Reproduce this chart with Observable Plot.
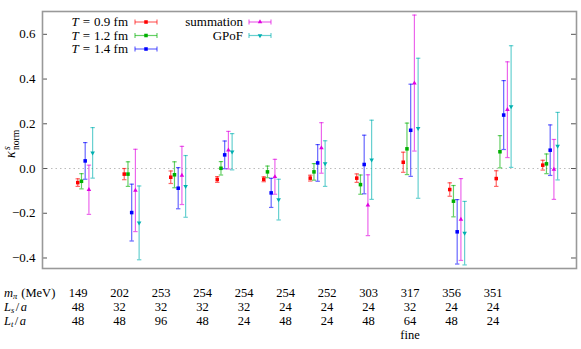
<!DOCTYPE html>
<html><head><meta charset="utf-8">
<script src="https://cdn.jsdelivr.net/npm/d3@7"></script>
<script src="https://cdn.jsdelivr.net/npm/@observablehq/plot@0.6"></script>
<style>
body{margin:0;background:#fff;}
#wrap{position:relative;width:581px;height:349px;font-family:'Liberation Serif',serif;}
#wrap svg, #wrap svg text{font-family:'Liberation Serif',serif !important;}
#over{position:absolute;left:0;top:0;pointer-events:none;}
</style></head>
<body><div id="wrap"></div>
<script>
// ensemble table
const ensembles = [1,2,3,4,5,6,7,8,9,10,11];
const mpi = ["149","202","253","254","254","254","252","303","317","356","351"];
const Ls  = ["48","32","32","32","32","24","24","24","32","24","24"];
const Lt  = ["48","48","96","48","24","48","24","48","64","48","24"];
const note = ["","","","","","","","","fine","",""];
// kappa values and errors
const T09  = [-0.063,-0.025,-0.039,-0.049,-0.048,-0.043,-0.043, 0.028,-0.094,-0.045, 0.015];
const T09e = [ 0.017, 0.025, 0.028, 0.013, 0.011, 0.013, 0.019, 0.045, 0.030, 0.035, 0.022];
const T12  = [-0.057,-0.025,-0.028, 0.001,-0.015,-0.015,-0.072, 0.088,-0.146, 0.075, 0.021];
const T12e = [ 0.034, 0.055, 0.058, 0.030, 0.026, 0.037, 0.043, 0.115, 0.070, 0.072, 0.044];
const T14  = [ 0.034,-0.197,-0.088, 0.061,-0.109, 0.025, 0.018, 0.171,-0.283, 0.239, 0.082];
const T14e = [ 0.082, 0.127, 0.092, 0.062, 0.065, 0.082, 0.131, 0.206, 0.144, 0.154, 0.113];
const summ  = [-0.095,-0.098,-0.031, 0.082,-0.037, 0.092,-0.164, 0.382,-0.228, 0.263,-0.004];
const summe = [ 0.110, 0.184, 0.130, 0.084, 0.078, 0.113, 0.136, 0.304, 0.183, 0.214, 0.134];
const gpof  = [ 0.070,-0.243,-0.080, 0.075,-0.139, 0.022, 0.039, 0.180,-0.289, 0.277, 0.100];
const gpofe = [ 0.113, 0.165, 0.138, 0.081, 0.091, 0.102, 0.177, 0.313, 0.142, 0.272, 0.151];
const yTicks = [-0.4,-0.2,0,0.2,0.4,0.6];

const series = [
  {name:"T09", v:T09, e:T09e, color:"#ff0000", symbol:"square", rot:0, k:-2, r:2},
  {name:"T12", v:T12, e:T12e, color:"#00b000", symbol:"square", rot:0, k:-1, r:2},
  {name:"T14", v:T14, e:T14e, color:"#0000ff", symbol:"square", rot:0, k:0, r:2},
  {name:"summation", v:summ, e:summe, color:"#e000e0", symbol:"triangle", rot:0, k:1, r:1.7},
  {name:"GPoF", v:gpof, e:gpofe, color:"#00b0b0", symbol:"triangle", rot:180, k:2, r:1.7}
];
const step = 0.08;
const cap = {draw(ctx){ ctx.moveTo(-2.2,0); ctx.lineTo(2.2,0); }};
const FONT = "'Liberation Serif',serif";

const marks = [
  Plot.ruleY([0], {stroke:"#bbb", strokeDasharray:"1.5,3"}),
  Plot.ruleY(yTicks, {insetRight:529, stroke:"#555"}),
  Plot.ruleY(yTicks, {insetLeft:529, stroke:"#555"}),
  Plot.axisY({ticks:yTicks, tickSize:0, tickPadding:7, tickFormat:d3.format(".1f"), label:null, fontSize:13})
];
for (const s of series) {
  const rows = ensembles.map((g,i)=>({x:g+s.k*step, y:s.v[i], lo:s.v[i]-s.e[i], hi:s.v[i]+s.e[i]}));
  marks.push(Plot.ruleX(rows, {x:"x", y1:"lo", y2:"hi", stroke:s.color, strokeOpacity:0.6, strokeWidth:1.2}));
  marks.push(Plot.dot(rows, {x:"x", y:"lo", symbol:cap, stroke:s.color, strokeOpacity:0.6, strokeWidth:1.2, r:2}));
  marks.push(Plot.dot(rows, {x:"x", y:"hi", symbol:cap, stroke:s.color, strokeOpacity:0.6, strokeWidth:1.2, r:2}));
  marks.push(Plot.dot(rows, {x:"x", y:"y", symbol:s.symbol, rotate:s.rot, fill:s.color, stroke:"none", r:s.r}));
}
marks.push(Plot.frame({stroke:"#999", strokeWidth:1.6}));

const chart = Plot.plot({
  width:581, height:349,
  marginLeft:42, marginRight:5, marginTop:11, marginBottom:81,
  style:{fontFamily:FONT, fontSize:"13px", background:"#fff", color:"#000"},
  x:{domain:[0.082,11.566], axis:null},
  y:{domain:[-0.447,0.702], axis:null},
  marks
});
const wrap = document.getElementById("wrap");
wrap.appendChild(chart);

// overlay: legend, y label, ensemble table
const svg = d3.select(wrap).append("svg").attr("id","over").attr("width",581).attr("height",349)
  .attr("font-family",FONT).attr("font-size",13);

const legendItems = [
  {s:series[0], label:["T","0.9 fm"], tx:128, sx:135, y:22},
  {s:series[1], label:["T","1.2 fm"], tx:128, sx:135, y:35.5},
  {s:series[2], label:["T","1.4 fm"], tx:128, sx:135, y:49},
  {s:series[3], label:["","summation"], tx:243, sx:249, y:22},
  {s:series[4], label:["","GPoF"], tx:243, sx:249, y:35.5}
];
for (const it of legendItems) {
  const t = svg.append("text").attr("x",it.tx).attr("y",it.y+4).attr("text-anchor","end");
  if (it.label[0]) {
    t.append("tspan").attr("font-style","italic").text(it.label[0]);
    t.append("tspan").attr("dx",4).text("=");
    t.append("tspan").attr("dx",4).text(it.label[1]);
  } else {
    t.append("tspan").text(it.label[1]);
  }
  const g = svg.append("g").attr("stroke",it.s.color).attr("stroke-opacity",0.6).attr("stroke-width",1.2);
  g.append("line").attr("x1",it.sx).attr("x2",it.sx+22).attr("y1",it.y).attr("y2",it.y);
  g.append("line").attr("x1",it.sx).attr("x2",it.sx).attr("y1",it.y-2.5).attr("y2",it.y+2.5);
  g.append("line").attr("x1",it.sx+22).attr("x2",it.sx+22).attr("y1",it.y-2.5).attr("y2",it.y+2.5);
  const sym = d3.symbol(it.s.symbol==="square"?d3.symbolSquare:d3.symbolTriangle, Math.PI*it.s.r*it.s.r)();
  svg.append("path").attr("d",sym).attr("fill",it.s.color)
    .attr("transform",`translate(${it.sx+11},${it.y}) rotate(${it.s.rot})`);
}

// y label kappa^s_norm
const yl = svg.append("g").attr("transform","translate(15,158) rotate(-90)");
yl.append("text").attr("x",0).attr("y",0).attr("font-style","italic").attr("font-size",14).text("κ");
yl.append("text").attr("x",8).attr("y",-5).attr("font-style","italic").attr("font-size",9.5).text("s");
yl.append("text").attr("x",8).attr("y",4).attr("font-size",9.5).text("norm");

// table
const rowsY = [297, 310.5, 324.5, 339];
const tab = svg.append("g").attr("font-size",12.5);
const lab1 = tab.append("text").attr("x",4).attr("y",rowsY[0]);
lab1.append("tspan").attr("font-style","italic").text("m");
lab1.append("tspan").attr("font-style","italic").attr("font-size",8.5).attr("dy",2).text("π");
lab1.append("tspan").attr("dy",-2).attr("dx",4).text("(MeV)");
const lab2 = tab.append("text").attr("x",4).attr("y",rowsY[1]);
lab2.append("tspan").attr("font-style","italic").text("L");
lab2.append("tspan").attr("font-style","italic").attr("font-size",8.5).attr("dy",2).text("s");
lab2.append("tspan").attr("dy",-2).attr("dx",1.5).text("/");
lab2.append("tspan").attr("font-style","italic").attr("dx",1.5).text("a");
const lab3 = tab.append("text").attr("x",4).attr("y",rowsY[2]);
lab3.append("tspan").attr("font-style","italic").text("L");
lab3.append("tspan").attr("font-style","italic").attr("font-size",8.5).attr("dy",2).text("t");
lab3.append("tspan").attr("dy",-2).attr("dx",1.5).text("/");
lab3.append("tspan").attr("font-style","italic").attr("dx",1.5).text("a");
const cols = [mpi, Ls, Lt, note];
cols.forEach((arr,r)=>{
  arr.forEach((v,i)=>{
    tab.append("text").attr("x",78+41.5*i).attr("y",rowsY[r]).attr("text-anchor","middle").text(v);
  });
});
</script></body></html>
